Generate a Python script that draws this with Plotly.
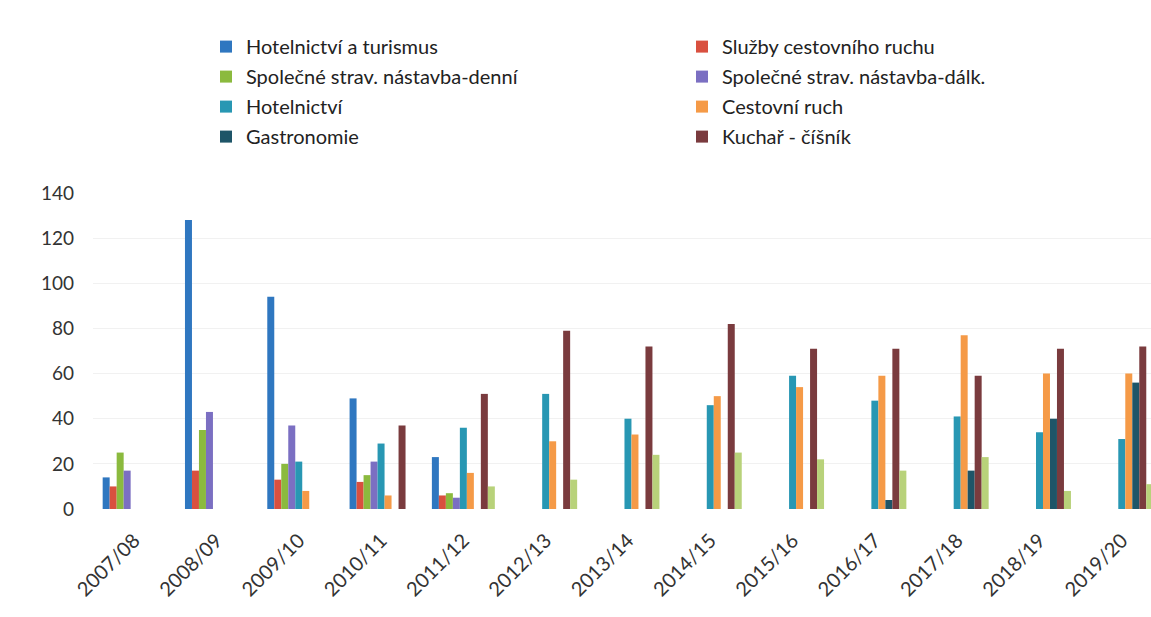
import plotly.graph_objects as go

years = ["2007/08", "2008/09", "2009/10", "2010/11", "2011/12", "2012/13", "2013/14",
         "2014/15", "2015/16", "2016/17", "2017/18", "2018/19", "2019/20"]

hotel_turismus = [14, 128, 94, 49, 23, 0, 0, 0, 0, 0, 0, 0, 0]
sluzby_cr = [10, 17, 13, 12, 6, 0, 0, 0, 0, 0, 0, 0, 0]
spol_denni = [25, 35, 20, 15, 7, 0, 0, 0, 0, 0, 0, 0, 0]
spol_dalk = [17, 43, 37, 21, 5, 0, 0, 0, 0, 0, 0, 0, 0]
hotelnictvi = [0, 0, 21, 29, 36, 51, 40, 46, 59, 48, 41, 34, 31]
cestovni_ruch = [0, 0, 8, 6, 16, 30, 33, 50, 54, 59, 77, 60, 60]
gastronomie = [0, 0, 0, 0, 0, 0, 0, 0, 0, 4, 17, 40, 56]
kuchar = [0, 0, 0, 37, 51, 79, 72, 82, 71, 71, 59, 71, 72]
neoznaceno = [0, 0, 0, 0, 10, 13, 24, 25, 22, 17, 23, 8, 11]

series = [
    ("Hotelnictví a turismus", hotel_turismus, "#2f77c0", "legend"),
    ("Služby cestovního ruchu", sluzby_cr, "#d9503f", "legend2"),
    ("Společné strav. nástavba-denní", spol_denni, "#8bba3e", "legend"),
    ("Společné strav. nástavba-dálk.", spol_dalk, "#7b6fc2", "legend2"),
    ("Hotelnictví", hotelnictvi, "#2897b3", "legend"),
    ("Cestovní ruch", cestovni_ruch, "#f59a47", "legend2"),
    ("Gastronomie", gastronomie, "#1e5568", "legend"),
    ("Kuchař - číšník", kuchar, "#7a3b3e", "legend2"),
]

FONT = "Lato"
fig = go.Figure()
for i, (name, vals, color, leg) in enumerate(series):
    fig.add_trace(go.Bar(x=years, y=vals, name=name, marker_color=color,
                         marker_line_width=0, legend=leg, legendgroup=f"g{i}"))
fig.add_trace(go.Bar(x=years, y=neoznaceno, name="", marker_color="#b8d27a",
                     marker_line_width=0, showlegend=False))

legend_style = dict(orientation="v", yanchor="top", xanchor="left",
                    font=dict(family=FONT, size=20, color="#222222"),
                    bgcolor="rgba(0,0,0,0)", tracegroupgap=1, itemclick=False)

fig.update_layout(
    width=1151, height=617,
    margin=dict(l=93, r=0, t=193, b=108),
    paper_bgcolor="white", plot_bgcolor="white",
    barmode="group", bargap=0.235, bargroupgap=0,
    font=dict(family=FONT, color="#404040"),
    legend=dict(x=0.1068, y=1.525, **legend_style),
    legend2=dict(x=0.5567, y=1.525, **legend_style),
    xaxis=dict(range=[-0.5, 12.355], tickangle=-45, showgrid=False, showline=False,
               ticklabelstandoff=15,
               tickfont=dict(family=FONT, size=20, color="#333333")),
    yaxis=dict(range=[0, 140], dtick=20, showgrid=True, gridcolor="#f1f1f1",
               zeroline=False, showline=False, ticklabelstandoff=18,
               tickfont=dict(family=FONT, size=19, color="#333333")),
)

fig.write_html("out.html")
